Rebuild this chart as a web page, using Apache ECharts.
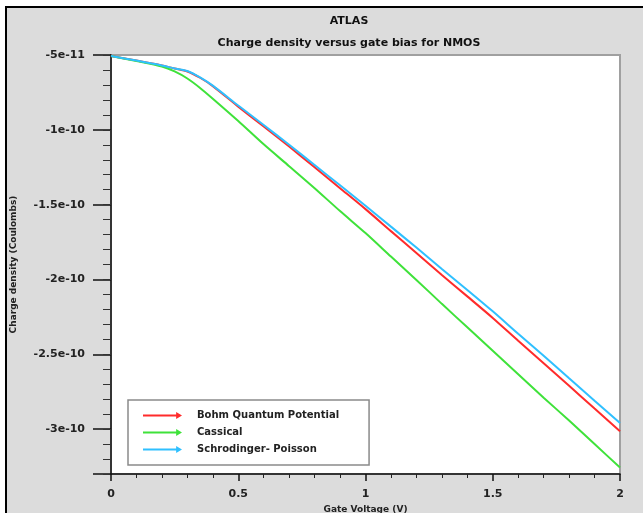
<!DOCTYPE html>
<html>
<head>
<meta charset="utf-8">
<script src="https://cdn.jsdelivr.net/npm/echarts@6/dist/echarts.min.js"></script>
<style>
html,body{margin:0;padding:0;background:#fff;}
#chart{width:643px;height:513px;}
</style>
</head>
<body>
<div id="chart"></div>
<script>
// ---- data ----
var gateVoltage = [0, 0.1, 0.2, 0.25, 0.3, 0.35, 0.4, 0.5, 0.6, 0.7, 0.8, 0.9, 1.0, 1.1, 1.2, 1.3, 1.4, 1.5, 1.6, 1.7, 1.8, 1.9, 2.0];
var bohm = [-0.507e-10, -0.537e-10, -0.570e-10, -0.590e-10, -0.610e-10, -0.652e-10, -0.708e-10, -0.845e-10, -0.978e-10, -1.112e-10, -1.250e-10, -1.390e-10, -1.530e-10, -1.677e-10, -1.823e-10, -1.970e-10, -2.113e-10, -2.257e-10, -2.410e-10, -2.560e-10, -2.710e-10, -2.863e-10, -3.015e-10];
var classical = [-0.507e-10, -0.540e-10, -0.577e-10, -0.610e-10, -0.657e-10, -0.720e-10, -0.792e-10, -0.941e-10, -1.097e-10, -1.243e-10, -1.390e-10, -1.543e-10, -1.690e-10, -1.847e-10, -2.003e-10, -2.163e-10, -2.320e-10, -2.477e-10, -2.633e-10, -2.790e-10, -2.943e-10, -3.100e-10, -3.257e-10];
var schrodinger = [-0.507e-10, -0.537e-10, -0.570e-10, -0.590e-10, -0.607e-10, -0.650e-10, -0.705e-10, -0.838e-10, -0.968e-10, -1.100e-10, -1.235e-10, -1.371e-10, -1.507e-10, -1.647e-10, -1.787e-10, -1.930e-10, -2.070e-10, -2.213e-10, -2.363e-10, -2.510e-10, -2.660e-10, -2.810e-10, -2.959e-10];
var seriesNames = ['Bohm Quantum Potential', 'Cassical', 'Schrodinger- Poisson'];
var yTickValues = [-5e-11, -1e-10, -1.5e-10, -2e-10, -2.5e-10, -3e-10];
var yTickLabels = ['-5e-11', '-1e-10', '-1.5e-10', '-2e-10', '-2.5e-10', '-3e-10'];
var xTickLabels = ['0', '0.5', '1', '1.5', '2'];

function pairs(xs, ys) { return xs.map(function (x, i) { return [x, ys[i]]; }); }

var FONT = 'DejaVu Sans';
var chart = echarts.init(document.getElementById('chart'), null, {renderer: 'canvas'});
var arrowIcon = 'path://M0,2.6L34,2.6L34,0L40,3.5L34,7L34,4.4L0,4.4Z';

var option = {
  backgroundColor: '#ffffff',
  animation: false,
  graphic: [{
    type: 'rect', z: -100, silent: true,
    shape: {x: 6, y: 7, width: 700, height: 600},
    style: {fill: '#dcdcdc', stroke: '#000', lineWidth: 2}
  }],
  title: [
    {text: 'ATLAS', left: 344, top: 11, textAlign: 'center',
     textStyle: {fontFamily: FONT, fontSize: 11, fontWeight: 'bold', color: '#111'}},
    {text: 'Charge density versus gate bias for NMOS', left: 344, top: 33, textAlign: 'center',
     textStyle: {fontFamily: FONT, fontSize: 11, fontWeight: 'bold', color: '#111'}}
  ],
  grid: {left: 111, right: 23, top: 55, bottom: 39, show: true, backgroundColor: '#ffffff', borderColor: '#a0a0a0', borderWidth: 2,
         containLabel: false, outerBoundsMode: 'none'},
  legend: {
    left: 128, top: 400, orient: 'vertical',
    data: seriesNames,
    icon: arrowIcon,
    itemWidth: 39, itemHeight: 7, itemGap: 4,
    backgroundColor: '#ffffff', borderColor: '#8a8a8a', borderWidth: 1.5, borderRadius: 0,
    padding: [9, 30, 9, 15],
    textStyle: {fontFamily: FONT, fontSize: 10, fontWeight: 'bold', color: '#222', padding: [0, 0, 0, 10], lineHeight: 13}
  },
  xAxis: {
    type: 'value', min: 0, max: 2, interval: 0.5,
    name: 'Gate Voltage (V)', nameLocation: 'middle', nameGap: 26,
    nameTextStyle: {fontFamily: FONT, fontSize: 9, fontWeight: 'bold', color: '#222'},
    axisLine: {show: true, lineStyle: {color: '#111', width: 1.5}},
    axisTick: {show: true, length: 7, lineStyle: {color: '#111', width: 1.5}},
    minorTick: {show: true, splitNumber: 5, length: 4, lineStyle: {color: '#222', width: 1}},
    axisLabel: {margin: 15, fontFamily: FONT, fontSize: 11, fontWeight: 'bold', color: '#222',
      formatter: function (v) { return xTickLabels[Math.round(v / 0.5)]; }},
    splitLine: {show: false}
  },
  yAxis: [{
    type: 'value', min: -3.3e-10, max: -5e-11,
    name: 'Charge density (Coulombs)', nameLocation: 'middle', nameGap: 93,
    nameTextStyle: {fontFamily: FONT, fontSize: 9, fontWeight: 'bold', color: '#222'},
    axisLine: {show: true, lineStyle: {color: '#111', width: 1.5}},
    axisTick: {show: true, length: 18, customValues: yTickValues.concat([-3.3e-10]), lineStyle: {color: '#111', width: 1.5}},
    axisLabel: {margin: 26, customValues: yTickValues, fontFamily: FONT, fontSize: 11, fontWeight: 'bold', color: '#222',
      formatter: function (v) {
        var best = 0;
        for (var i = 0; i < yTickValues.length; i++) {
          if (Math.abs(yTickValues[i] - v) < Math.abs(yTickValues[best] - v)) best = i;
        }
        return yTickLabels[best];
      }},
    splitLine: {show: false}
  }, {
    type: 'value', min: -3.3e-10, max: -5e-11, interval: 1e-11, position: 'left',
    axisLine: {show: false},
    axisTick: {show: true, length: 8, lineStyle: {color: '#333', width: 1}},
    axisLabel: {show: false},
    splitLine: {show: false}
  }],
  series: [
    {name: seriesNames[0], type: 'line', data: pairs(gateVoltage, bohm), showSymbol: false, smooth: 0.25,
     itemStyle: {color: '#ff2b2b'}, lineStyle: {color: '#ff2b2b', width: 2}},
    {name: seriesNames[1], type: 'line', data: pairs(gateVoltage, classical), showSymbol: false, smooth: 0.25,
     itemStyle: {color: '#3fe23a'}, lineStyle: {color: '#3fe23a', width: 2}},
    {name: seriesNames[2], type: 'line', data: pairs(gateVoltage, schrodinger), showSymbol: false, smooth: 0.25,
     itemStyle: {color: '#2fc0ff'}, lineStyle: {color: '#2fc0ff', width: 2}}
  ]
};
chart.setOption(option);
</script>
</body>
</html>
